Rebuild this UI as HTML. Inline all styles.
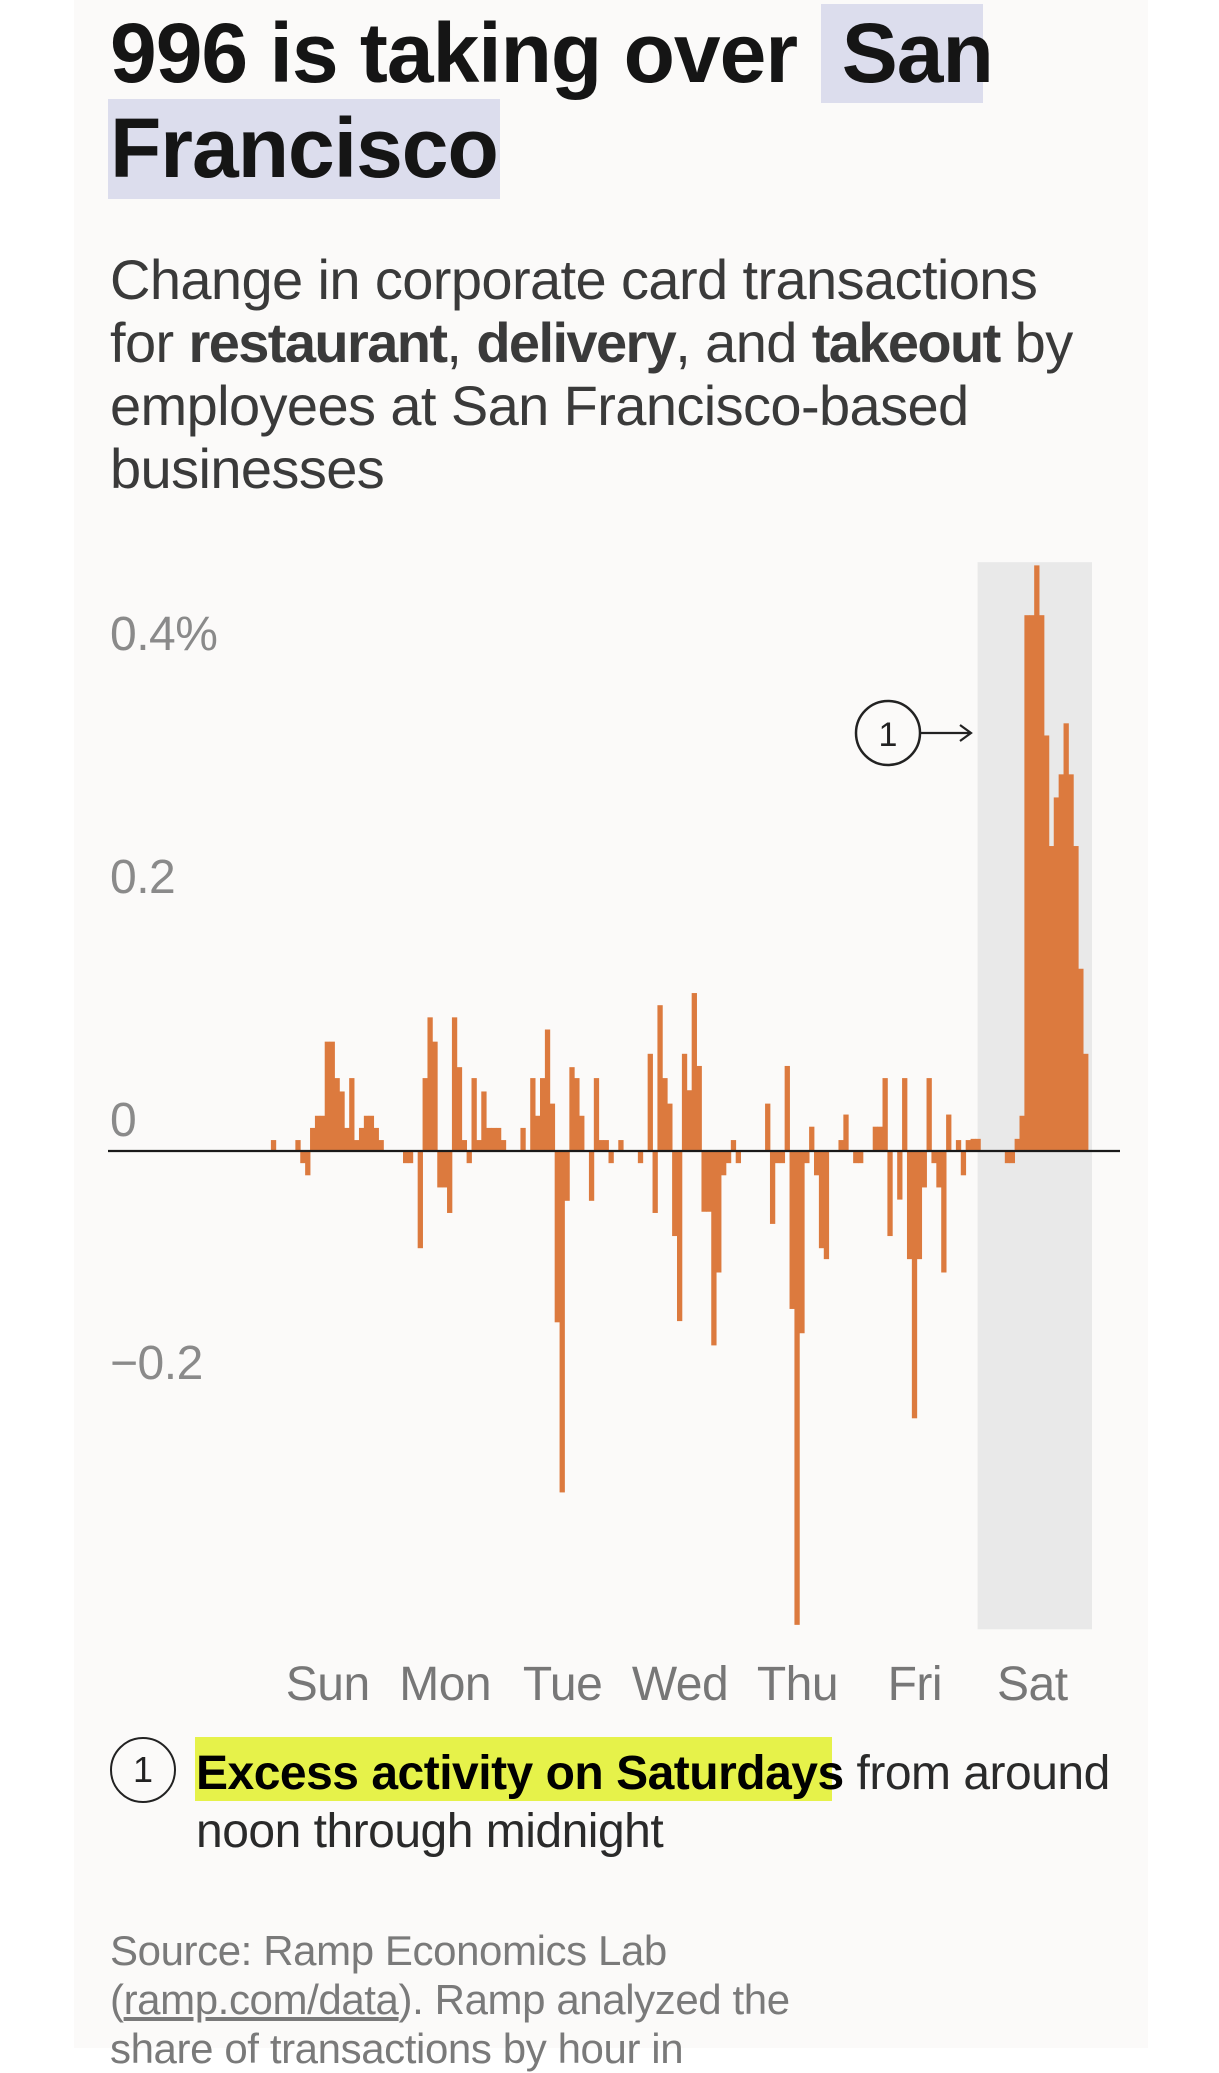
<!DOCTYPE html>
<html><head><meta charset="utf-8">
<style>
html,body{margin:0;padding:0;}
body{width:1219px;height:2048px;overflow:hidden;background:#ffffff;position:relative;font-family:"Liberation Sans",Arial,sans-serif;}
#panel{position:absolute;left:74px;top:0;width:1074px;height:2048px;background:#fbfaf9;}
.t{position:absolute;white-space:nowrap;}
.hl{position:absolute;background:#dcdded;}
.sb b{letter-spacing:-1.6px;}
</style></head><body>
<div id="panel"></div>
<div class="hl" style="left:821px;top:4px;width:162px;height:99px"></div>
<div class="hl" style="left:108px;top:99px;width:392px;height:100px"></div>
<div class="t" style="left:110px;top:6px;font-size:84px;font-weight:bold;color:#151515;line-height:95px;letter-spacing:-1px">996 is taking over&nbsp; San<br>Francisco</div>
<div class="t sb" style="left:110px;top:248px;font-size:56px;color:#3a3a3a;line-height:63px;letter-spacing:-0.6px">Change in corporate card transactions<br>for <b>restaurant</b>, <b>delivery</b>, and <b>takeout</b> by<br>employees at San Francisco-based<br>businesses</div>

<svg id="chart" width="1219" height="2048" style="position:absolute;left:0;top:0"></svg>

<div style="position:absolute;left:195px;top:1737px;width:637px;height:64px;background:#e6f24a"></div>
<div style="position:absolute;left:110px;top:1737px;width:66px;height:66px;border:2.5px solid #222;border-radius:50%;box-sizing:border-box;font-size:36px;line-height:62px;text-align:center;color:#222">1</div>
<div class="t" style="left:196px;top:1745px;font-size:48px;line-height:58px;color:#2a2a2a;letter-spacing:-0.5px"><b style="color:#000">Excess activity on Saturdays</b> from around<br>noon through midnight</div>
<div class="t" style="left:110px;top:1926px;font-size:42px;line-height:49px;color:#7a7a7a;letter-spacing:-0.4px">Source: Ramp Economics Lab<br>(<span style="text-decoration:underline">ramp.com/data</span>). Ramp analyzed the<br>share of transactions by hour in</div>

<script>
const days = ["Sun","Mon","Tue","Wed","Thu","Fri","Sat"];
const yTicks = [0.4, 0.2, 0, -0.2];
const yTickLabels = ["0.4%","0.2","0","\u22120.2"];
const sunVals = [0,0.009,0,0,0,0,0.009,-0.01,-0.02,0.019,0.029,0.029,0.09,0.09,0.06,0.049,0.019,0.06,0.009,0.019,0.029,0.029,0.019,0.009];
const monVals = [0,0,0,0,-0.01,-0.01,0,-0.08,0.06,0.11,0.09,-0.03,-0.03,-0.051,0.11,0.069,0.009,-0.01,0.06,0.009,0.049,0.019,0.019,0.019];
const tueVals = [0.009,0,0,0,0.019,0,0.06,0.029,0.06,0.10,0.039,-0.141,-0.281,-0.041,0.069,0.06,0.029,0,-0.041,0.06,0.009,0.009,-0.01,0];
const wedVals = [0.009,0,0,0,-0.01,0,0.08,-0.051,0.12,0.06,0.039,-0.07,-0.14,0.08,0.05,0.13,0.07,-0.05,-0.05,-0.16,-0.10,-0.02,-0.01,0.009];
const thuVals = [-0.01,0,0,0,0,0,0.039,-0.06,-0.01,-0.01,0.07,-0.13,-0.39,-0.15,-0.01,0.02,-0.02,-0.08,-0.089,0,0,0.009,0.03,0];
const friVals = [-0.01,-0.01,0,0,0.02,0.02,0.06,-0.07,0,-0.04,0.06,-0.089,-0.22,-0.089,-0.03,0.06,-0.01,-0.03,-0.10,0.03,0,0.009,-0.02,0.009];
const satVals = [0.01,0.01,0,0,0,0,0,-0.01,-0.01,0.01,0.029,0.441,0.441,0.482,0.441,0.342,0.251,0.291,0.31,0.352,0.31,0.251,0.15,0.08];
const highlightDay = "Sat";

const NS="http://www.w3.org/2000/svg";
const svg=document.getElementById('chart');
const X0=266, X1=1088, Y0=1151, PX_PER_PCT=1215;
const allVals=[].concat(sunVals,monVals,tueVals,wedVals,thuVals,friVals,satVals);
const slot=(X1-X0)/allVals.length;
function x(i){return X0+i*slot;}
function y(v){return Y0-v*PX_PER_PCT;}
function mk(tag,attrs){const e=document.createElementNS(NS,tag);for(const k in attrs)e.setAttribute(k,attrs[k]);svg.appendChild(e);return e;}

const di=days.indexOf(highlightDay);
const shade=mk('rect',{x:x(di*24)+7,y:y(0.483)-2,width:(X1-X0)/7-3,height:y(-0.392)-y(0.483)+4,fill:'#e9e9e9'});



yTicks.forEach((t,i)=>{
  const e=mk('text',{x:110,y:y(t)-15,'font-size':48,fill:'#8a8a8a','font-family':'Liberation Sans, Arial, sans-serif','letter-spacing':'-0.5'});
  e.textContent=yTickLabels[i];
  
  
});

allVals.forEach((v,i)=>{
  if(v===0)return;
  const top=Math.min(y(v),Y0), h=Math.abs(y(v)-Y0);
  const r=mk('rect',{x:x(i),y:top,width:slot+0.4,height:h,fill:'#dc7a3e'});
  
  
});

const zl=mk('line',{x1:108,x2:1120,y1:Y0,y2:Y0,stroke:'#1a1a1a','stroke-width':2.2});



days.forEach((d,i)=>{
  const e=mk('text',{x:x(i*24+12)+3,y:1700,'font-size':48,fill:'#777','text-anchor':'middle','font-family':'Liberation Sans, Arial, sans-serif','letter-spacing':'-0.5'});
  e.textContent=d;
  
  
});

const c=mk('circle',{cx:888,cy:733,r:32,fill:'none',stroke:'#222','stroke-width':2.5});


const ct=mk('text',{x:888,y:746,'font-size':34,fill:'#222','text-anchor':'middle','font-family':'Liberation Sans, Arial, sans-serif'});
ct.textContent='1';


const ar=mk('path',{d:'M921 733 H970 M960 725 L971 733 L960 741',fill:'none',stroke:'#222','stroke-width':2.2});


</script>
</body></html>
